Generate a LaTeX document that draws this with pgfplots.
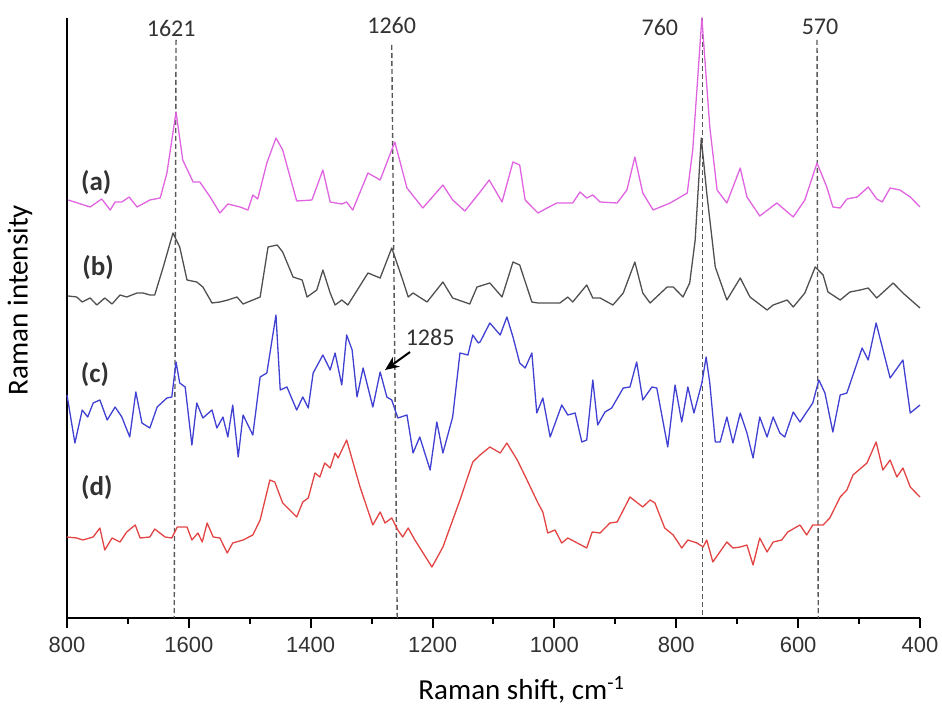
\documentclass[border=0pt]{standalone}
\usepackage{pgfplots}
\pgfplotsset{compat=1.18}
\usepackage{fontspec}
\setmainfont{Carlito}
\newfontfamily\arialfont{Liberation Sans}
\usetikzlibrary{arrows.meta}
\definecolor{specA}{RGB}{224,100,224}
\definecolor{specB}{RGB}{80,80,80}
\definecolor{specC}{RGB}{64,64,210}
\definecolor{specD}{RGB}{226,68,68}
\definecolor{txt}{RGB}{50,50,50}
\begin{document}
\begin{tikzpicture}
\useasboundingbox (-33.5pt,-44.5pt) rectangle (437.5pt,309pt);
\begin{axis}[
    scale only axis,
    width=426.5pt, height=300pt,
    xmin=400, xmax=1800, ymin=0, ymax=600,
    x dir=reverse,
    axis x line=bottom, axis y line=left,
    axis line style={-, line width=1pt},
    ytick=\empty,
    xtick={400,600,...,1800},
    xticklabels={400,600,800,1000,1200,1400,1600,800},
    minor x tick num=1,
    tick align=outside,
    major tick length=5pt, minor tick length=3pt,
    every tick/.style={black, line width=1pt},
    xticklabel style={font=\arialfont\fontsize{11}{11}\selectfont, text=txt, yshift=-1pt},
    xlabel={Raman shift, cm\textsuperscript{-1}},
    ylabel={Raman intensity},
    xlabel style={at={(axis description cs:0.533,-0.12)}, anchor=center, font=\fontsize{14.5}{15}\selectfont},
    ylabel style={at={(axis description cs:-0.0551,0.53)}, anchor=center, font=\fontsize{14.5}{15}\selectfont},
    clip=false,
    every axis plot/.append style={line width=0.65pt, line join=round},
]
% reference lines
\begin{scope}[densely dashed, dash pattern=on 2.5pt off 1.5pt, line width=0.7pt, color=black!65]
\draw (axis cs:1621,578) -- (axis cs:1624,0);
\draw (axis cs:1267,573) -- (axis cs:1258,0);
\draw (axis cs:757,600) -- (axis cs:757,0);
\draw (axis cs:569,578) -- (axis cs:567,0);
\end{scope}

% (a)
\addplot[specA] coordinates {
(1798,418) (1762,411) (1743,419) (1729,408) (1721,416) (1710,416) (1698,421) (1685,411)
(1664,418) (1647,420) (1636,445) (1621,506) (1610,458) (1593,436) (1582,436) (1565,421)
(1549,405) (1536,414) (1516,411) (1503,408) (1495,423) (1487,419) (1472,455) (1457,480)
(1446,468) (1423,417) (1398,418) (1380,448) (1368,416) (1349,414) (1341,416) (1331,408)
(1306,445) (1286,438) (1262,476) (1242,430) (1216,410) (1183,433) (1167,418) (1147,407)
(1122,426) (1107,438) (1086,416) (1068,456) (1057,453) (1048,418) (1027,405) (1012,410)
(996,415) (970,415) (958,426) (947,420) (937,423) (925,416) (897,415) (881,428)
(868,461) (855,425) (838,408) (810,415) (782,425) (773,468) (758,600) (745,491)
(733,428) (717,415) (695,450) (684,421) (663,402) (635,415) (608,401) (589,418)
(569,455) (553,431) (543,411) (531,410) (520,419) (503,421) (485,431) (471,419)
(462,416) (449,430) (433,428) (416,421) (400,411)
};
% (b)
\addplot[specB] coordinates {
(1798,322) (1784,321) (1775,316) (1762,320) (1751,313) (1738,320) (1726,314) (1713,323)
(1702,321) (1685,325) (1675,325) (1664,323) (1656,323) (1642,351) (1626,385) (1615,371)
(1603,338) (1587,336) (1577,331) (1562,315) (1549,316) (1536,318) (1521,321) (1511,314)
(1495,318) (1483,321) (1470,371) (1455,373) (1446,366) (1429,341) (1414,338) (1406,321)
(1390,328) (1380,348) (1368,325) (1360,313) (1349,318) (1339,313) (1306,345) (1286,340)
(1267,370) (1249,338) (1240,321) (1232,325) (1209,316) (1183,336) (1167,320) (1139,314)
(1127,331) (1106,335) (1086,321) (1068,356) (1057,353) (1037,316) (1027,315) (991,315)
(978,321) (970,316) (947,333) (937,320) (925,320) (904,313) (887,325) (868,356)
(855,325) (843,315) (815,331) (805,331) (789,321) (778,335) (769,378) (759,480)
(750,425) (736,351) (717,318) (695,340) (679,321) (651,308) (641,313) (618,318)
(608,311) (589,325) (572,351) (559,343) (551,326) (531,318) (515,326) (498,328)
(485,330) (471,320) (444,335) (428,325) (400,310)
};
% (c)
\addplot[specC] coordinates {
(1800,223) (1787,175) (1775,208) (1766,201) (1757,215) (1746,218) (1734,198) (1721,211)
(1710,201) (1697,181) (1687,226) (1677,195) (1664,190) (1652,211) (1636,220) (1628,221)
(1621,256) (1615,235) (1606,231) (1595,173) (1587,215) (1577,200) (1562,208) (1554,190)
(1544,201) (1536,181) (1528,213) (1519,161) (1511,203) (1495,183) (1483,241) (1472,245)
(1457,303) (1450,228) (1439,231) (1423,208) (1413,221) (1404,210) (1396,245) (1380,263)
(1368,248) (1360,265) (1349,233) (1341,283) (1332,268) (1324,221) (1314,250) (1298,211)
(1286,246) (1275,221) (1267,218) (1257,200) (1242,203) (1232,165) (1221,181) (1204,148)
(1193,196) (1183,165) (1167,201) (1155,265) (1142,263) (1134,283) (1125,275) (1122,276)
(1106,295) (1089,283) (1078,301) (1068,281) (1057,255) (1048,250) (1037,265) (1029,205)
(1019,220) (1007,181) (988,213) (978,203) (966,205) (955,176) (947,178) (937,238)
(929,193) (917,206) (906,210) (887,230) (876,231) (865,256) (855,218) (840,231)
(832,230) (814,171) (802,233) (791,196) (781,231) (771,205) (758,235) (751,261)
(745,235) (736,176) (728,176) (717,201) (707,175) (695,205) (684,185) (674,160)
(663,201) (651,181) (641,201) (630,185) (622,181) (608,206) (597,196) (576,215)
(566,238) (556,225) (543,186) (531,223) (520,225) (495,270) (485,258) (472,295)
(449,240) (428,258) (416,205) (400,213)
};
% (d)
\addplot[specD] coordinates {
(1800,81) (1784,80) (1774,78) (1757,81) (1746,90) (1738,68) (1726,80) (1713,76)
(1702,86) (1688,93) (1680,80) (1664,81) (1656,89) (1639,81) (1628,80) (1619,91)
(1603,91) (1595,78) (1585,85) (1578,76) (1570,95) (1560,81) (1549,80) (1537,65)
(1528,75) (1511,78) (1495,83) (1483,98) (1467,138) (1459,136) (1446,115) (1423,101)
(1413,116) (1404,120) (1393,145) (1385,141) (1377,155) (1368,150) (1360,165) (1355,160)
(1341,178) (1319,131) (1298,93) (1286,106) (1278,95) (1267,100) (1257,88) (1249,81)
(1240,90) (1229,78) (1201,51) (1183,71) (1155,118) (1134,156) (1122,163) (1106,171)
(1089,165) (1078,175) (1061,158) (1045,138) (1027,115) (1019,106) (1011,85) (999,88)
(988,75) (978,80) (947,70) (938,86) (925,85) (909,95) (897,96) (876,121)
(855,111) (843,118) (835,115) (819,90) (805,83) (791,70) (781,78) (766,75)
(756,71) (750,78) (740,56) (717,76) (707,70) (695,71) (684,73) (674,53)
(663,80) (651,66) (641,76) (627,78) (617,86) (597,93) (586,83) (576,93)
(559,93) (548,100) (531,121) (520,128) (510,143) (487,155) (472,176) (461,148)
(449,158) (438,141) (428,150) (416,131) (400,121)
};

% annotations
\begin{scope}[every node/.style={text=txt, font=\fontsize{12}{12}\selectfont}]
\node at (axis cs:1629,590) {1621};
\node at (axis cs:1267,593) {1260};
\node at (axis cs:827,591) {760};
\node at (axis cs:564,591) {570};
\node at (axis cs:1204,281) {1285};
\end{scope}
\draw[-{Stealth[length=7pt,width=6pt]}, line width=1pt, black] (axis cs:1237,266) -- (axis cs:1278,248);
\begin{scope}[every node/.style={text=txt, font=\bfseries\fontsize{13.5}{14}\selectfont}]
\node at (axis cs:1752,435) {(a)};
\node at (axis cs:1749,350) {(b)};
\node at (axis cs:1754,243) {(c)};
\node at (axis cs:1751,130) {(d)};
\end{scope}
\end{axis}
\end{tikzpicture}
\end{document}
